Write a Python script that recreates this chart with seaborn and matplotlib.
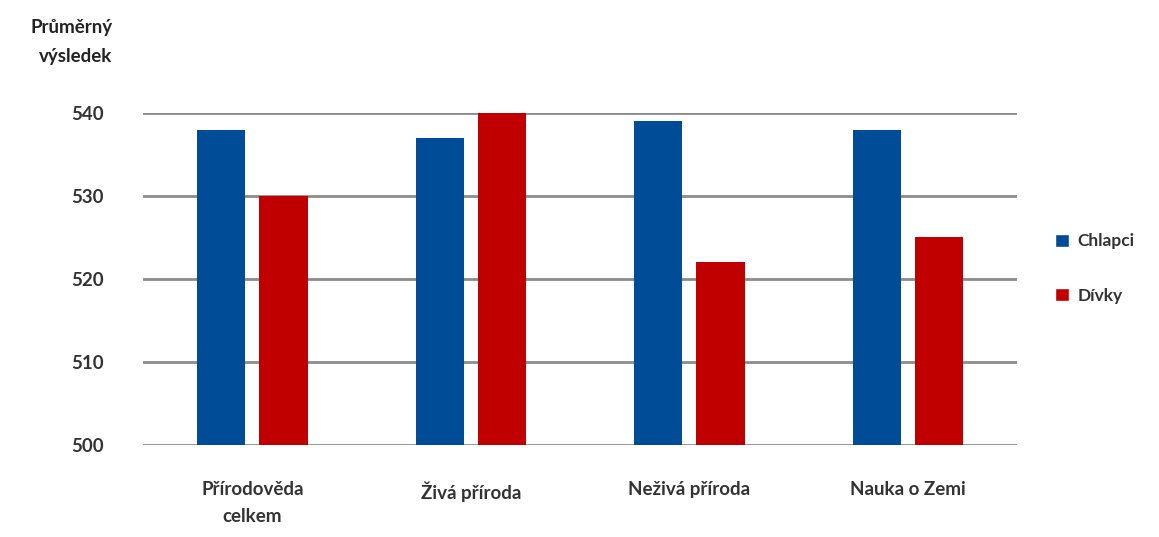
import matplotlib
matplotlib.use("Agg")
import matplotlib.pyplot as plt
import seaborn as sns
import pandas as pd
from matplotlib.patches import Patch

categories = ["Přírodověda\ncelkem", "Živá příroda", "Neživá příroda", "Nauka o Zemi"]
chlapci = [538, 537, 539, 538]
divky = [530, 540, 522, 525]
series_names = ["Chlapci", "Dívky"]
colors = ["#004C97", "#C00000"]

df = pd.DataFrame({
    "kategorie": categories * 2,
    "skupina": [series_names[0]] * 4 + [series_names[1]] * 4,
    "vysledek": chlapci + divky,
})

sns.set_style("white")
plt.rcParams["font.family"] = ["Lato", "DejaVu Sans"]

fig = plt.figure(figsize=(11.59, 5.37), dpi=100)
ax = fig.add_axes([0.1234, 0.1713, 0.7541, 0.6183])

sns.barplot(data=df, x="kategorie", y="vysledek", hue="skupina",
            palette=colors, width=0.57, gap=0.226, ax=ax, legend=False,
            saturation=1, linewidth=0, zorder=3)

ax.set_ylim(500, 540)
ax.set_yticks([500, 510, 520, 530, 540])
ax.yaxis.grid(True, color="#8c8c8c", linewidth=2, zorder=0)
ax.set_axisbelow(True)
for s in ax.spines.values():
    s.set_visible(False)
ax.tick_params(axis="both", length=0, labelsize=13.5, colors="#333333")
ax.tick_params(axis="y", pad=28)
ax.tick_params(axis="x", pad=26)
for lbl in ax.get_yticklabels() + ax.get_xticklabels():
    lbl.set_fontweight("bold")
for lbl in ax.get_xticklabels():
    lbl.set_linespacing(1.7)
ax.set_xlabel("")
ax.set_ylabel("")

fig.text(0.097, 0.922, "Průměrný\nvýsledek", ha="right", va="center",
         fontsize=13.5, fontweight="bold", color="#222222", linespacing=1.9)

handles = [Patch(facecolor=c, label=n) for c, n in zip(colors, series_names)]
fig.legend(handles=handles, loc="center left", bbox_to_anchor=(0.897, 0.50),
           frameon=False, handlelength=0.8, handleheight=0.8,
           handletextpad=0.5, labelspacing=2.2, labelcolor="#333333",
           prop={"weight": "bold", "size": 12.5})

fig.savefig("out.png", dpi=100, facecolor="white")
